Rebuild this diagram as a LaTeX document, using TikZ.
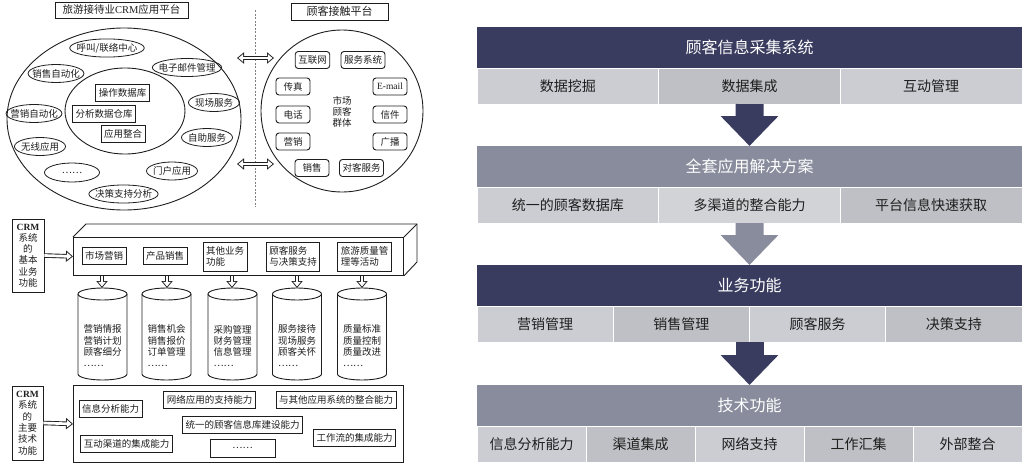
\documentclass[tikz,border=0pt]{standalone}
\usepackage{fontspec}
\setmainfont{Liberation Serif}
\newfontfamily\cjk{Noto Sans CJK SC}
\newfontfamily\serif{Liberation Serif}
\usetikzlibrary{positioning, arrows.meta, calc, shapes.geometric}
\definecolor{barnavy}{RGB}{58, 60, 95}
\definecolor{bargray}{RGB}{136, 140, 156}
\definecolor{celllight}{RGB}{203, 205, 211}
\definecolor{cellpale}{RGB}{209, 211, 215}
\definecolor{celldark}{RGB}{191, 192, 197}
\definecolor{inkgray}{RGB}{30, 30, 30}

\tikzset{
    lbl/.style={font=\cjk\fontsize{9.5}{11.3}\selectfont, text=inkgray},
    boxline/.style={draw=inkgray, line width=0.9pt},
    sqbox/.style={lbl, boxline, inner xsep=3pt, inner ysep=1.5pt, minimum height=17pt},
    rbox/.style={sqbox, rounded corners=3pt, minimum width=34pt},
    smallell/.style={lbl, draw=inkgray, line width=0.8pt, ellipse, inner xsep=-4pt, inner ysep=1.5pt, minimum width=51pt, minimum height=18pt},
    hollowout/.style={draw=inkgray, line width=4.5pt, -{Triangle[width=11pt, length=7pt]}},
    hollowin/.style={draw=white, line width=2.7pt, shorten >=1.46pt, -{Triangle[width=7.3pt, length=4.64pt]}},
    bothout/.style={hollowout, {Triangle[width=11pt, length=7pt]}-{Triangle[width=11pt, length=7pt]}},
    bothin/.style={hollowin, shorten <=1.46pt, {Triangle[width=7.3pt, length=4.64pt]}-{Triangle[width=7.3pt, length=4.64pt]}},
    navybar/.style={fill=barnavy, text=white, minimum width=545pt, minimum height=41pt, inner sep=0pt, outer sep=0pt, font=\cjk\fontsize{16}{18}\selectfont},
    graybar/.style={navybar, fill=bargray},
    cell/.style={draw=white, line width=0.8pt, minimum height=36pt, inner sep=0pt, outer sep=0pt, text=inkgray, font=\cjk\fontsize{14}{16}\selectfont},
    navyarrow/.style={draw=barnavy, line width=28pt, -{Triangle[width=56pt, length=30pt]}},
    grayarrow/.style={navyarrow, draw=bargray},
}

\begin{document}
\begin{tikzpicture}[x=1pt, y=-1pt]
        \useasboundingbox (0,0) rectangle (1026,466);

        % CRM platform
        \node[sqbox, minimum width=133pt, minimum height=16pt, font=\cjk\fontsize{10.5}{12}\selectfont] (crmtitle) at (121.5,10) {旅游接待业{\serif CRM}应用平台};
        \node[ellipse, boxline, minimum width=234pt, minimum height=182pt] (crmell) at (124,119) {};
        \node[ellipse, boxline, minimum width=120pt, minimum height=86pt] (dbell) at (125,111) {};
        \node[sqbox] (opdb) at (122.5,93) {操作数据库};
        \node[sqbox] (anadw) at (104,113.5) {分析数据仓库};
        \node[sqbox] (appint) at (123,134) {应用整合};
        \node[smallell, minimum width=70pt] (call) at (107,48) {呼叫/联络中心};
        \node[smallell] (email) at (187,67.5) {电子邮件管理};
        \node[smallell] (salesauto) at (56,73.5) {销售自动化};
        \node[smallell] (onsite) at (214,102.5) {现场服务};
        \node[smallell] (mktauto) at (34,113.5) {营销自动化};
        \node[smallell] (selfsvc) at (207,137.5) {自助服务};
        \node[smallell] (wireless) at (40,146.5) {无线应用};
        \node[smallell] (portal) at (172,171) {门户应用};
        \node[smallell, minimum width=55pt, minimum height=19pt] (moreapp) at (72,172.5) {……};
        \node[smallell] (decision) at (123.5,194) {决策支持分析};

        % divider and links
        \draw[gray, dashed, dash pattern=on 2pt off 1.5pt] (255,10) -- (255,207);
        \coordinate (lnkal) at (237,58);
        \coordinate (lnkar) at (274,58);
        \coordinate (lnkbl) at (237,164);
        \coordinate (lnkbr) at (274,164);
        \draw[bothout] (lnkal) -- (lnkar);
        \draw[bothin] (lnkal) -- (lnkar);
        \draw[bothout] (lnkbl) -- (lnkbr);
        \draw[bothin] (lnkbl) -- (lnkbr);

        % Contact platform
        \node[sqbox, minimum width=97pt, font=\cjk\fontsize{11}{13}\selectfont] (touchtitle) at (339.5,11.5) {顾客接触平台};
        \node[circle, boxline, minimum size=162pt] (touchcirc) at (342,111) {};
        \node[lbl, align=center, font=\cjk\fontsize{9.5}{11}\selectfont] (market) at (342,112) {市场\\顾客\\群体};
        \node[rbox] (net) at (312.5,60) {互联网};
        \node[rbox] (svcsys) at (363,60) {服务系统};
        \node[rbox] (fax) at (293,86.5) {传真};
        \node[rbox] (mail) at (390,86.5) {\serif E-mail};
        \node[rbox] (phone) at (293,114.5) {电话};
        \node[rbox] (letter) at (390,114.5) {信件};
        \node[rbox] (mkt) at (293,141.5) {营销};
        \node[rbox] (bcast) at (390,141.5) {广播};
        \node[rbox] (sale) at (312,168) {销售};
        \node[rbox] (custsvc) at (361.5,168) {对客服务};

        % Business functions
        \node[sqbox, align=center, minimum width=32pt, minimum height=73pt] (crmbiz) at (28,255.5) {{\serif\bfseries CRM}\\系统\\的\\基本\\业务\\功能};
        \node[boxline, minimum width=330pt, minimum height=38pt, anchor=north west] (bizbox) at (73,237) {};
        \draw[boxline] (bizbox.north west) -- ++(13,-13) -- ++(331,0) -- ++(0,38) -- (bizbox.south east);
        \draw[boxline] (bizbox.north east) -- ++(13,-13);
        \draw[hollowout] (crmbiz.east) -- (bizbox.west);
        \draw[hollowin] (crmbiz.east) -- (bizbox.west);
        \node[sqbox] (mkting) at (104,256) {市场营销};
        \node[sqbox] (prodsale) at (165,256) {产品销售};
        \node[sqbox, align=left, minimum height=29pt] (otherbiz) at (225,256.5) {其他业务\\功能};
        \node[sqbox, align=left, minimum height=29pt] (custdec) at (293,256.5) {顾客服务\\与决策支持};
        \node[sqbox, align=left, minimum height=29pt] (quality) at (364.5,256.5) {旅游质量管\\理等活动};

        % Databases
        \draw[boxline] (78,294) -- (78,374) arc[start angle=180, end angle=360, x radius=24.5pt, y radius=6pt] -- (127,294);
        \draw[boxline] (102.5,294) ellipse [x radius=24.5pt, y radius=6pt];
        \coordinate (db1) at (102,288);
        \node[lbl, align=left] (db1txt) at (102.5,346) {营销情报\\营销计划\\顾客细分\\……};
        \draw[boxline] (142,294) -- (142,374) arc[start angle=180, end angle=360, x radius=24.5pt, y radius=6pt] -- (191,294);
        \draw[boxline] (166.5,294) ellipse [x radius=24.5pt, y radius=6pt];
        \coordinate (db2) at (167,288);
        \node[lbl, align=left] (db2txt) at (166.5,346) {销售机会\\销售报价\\订单管理\\……};
        \draw[boxline] (208,294) -- (208,374) arc[start angle=180, end angle=360, x radius=24.5pt, y radius=6pt] -- (257,294);
        \draw[boxline] (232.5,294) ellipse [x radius=24.5pt, y radius=6pt];
        \coordinate (db3) at (232,288);
        \node[lbl, align=left] (db3txt) at (232.5,346) {采购管理\\财务管理\\信息管理\\……};
        \draw[boxline] (272.5,294) -- (272.5,374) arc[start angle=180, end angle=360, x radius=24.5pt, y radius=6pt] -- (321.5,294);
        \draw[boxline] (297,294) ellipse [x radius=24.5pt, y radius=6pt];
        \coordinate (db4) at (297,288);
        \node[lbl, align=left] (db4txt) at (297,346) {服务接待\\现场服务\\顾客关怀\\……};
        \draw[boxline] (337.5,294) -- (337.5,374) arc[start angle=180, end angle=360, x radius=24.5pt, y radius=6pt] -- (386.5,294);
        \draw[boxline] (362,294) ellipse [x radius=24.5pt, y radius=6pt];
        \coordinate (db5) at (362,288);
        \node[lbl, align=left] (db5txt) at (362,346) {质量标准\\质量控制\\质量改进\\……};
        \draw[hollowout] (bizbox.south -| db1) -- (db1);
        \draw[hollowin] (bizbox.south -| db1) -- (db1);
        \draw[hollowout] (bizbox.south -| db2) -- (db2);
        \draw[hollowin] (bizbox.south -| db2) -- (db2);
        \draw[hollowout] (bizbox.south -| db3) -- (db3);
        \draw[hollowin] (bizbox.south -| db3) -- (db3);
        \draw[hollowout] (bizbox.south -| db4) -- (db4);
        \draw[hollowin] (bizbox.south -| db4) -- (db4);
        \draw[hollowout] (bizbox.south -| db5) -- (db5);
        \draw[hollowin] (bizbox.south -| db5) -- (db5);

        % Technical functions
        \node[sqbox, align=center, minimum width=31pt, minimum height=74pt] (crmtech) at (27.5,423) {{\serif\bfseries CRM}\\系统\\的\\主要\\技术\\功能};
        \node[boxline, minimum width=330pt, minimum height=77pt, anchor=north west] (techbox) at (73,385) {};
        \draw[hollowout] (crmtech.east) -- (techbox.west);
        \draw[hollowin] (crmtech.east) -- (techbox.west);
        \node[sqbox] (infoana) at (110.5,409) {信息分析能力};
        \node[sqbox] (netsup) at (209.5,400) {网络应用的支持能力};
        \node[sqbox] (integ) at (336,400) {与其他应用系统的整合能力};
        \node[sqbox] (unidb) at (242.5,424.5) {统一的顾客信息库建设能力};
        \node[sqbox] (chan) at (126.5,443.5) {互动渠道的集成能力};
        \node[sqbox] (flow) at (354.5,437.5) {工作流的集成能力};
        \node[sqbox, minimum width=65pt, minimum height=18pt] (techmore) at (242.5,448) {……};

        % Layer 1
        \node[navybar, anchor=north west] (collect) at (477,27) {顾客信息采集系统};
        \node[cell, fill=celllight, minimum width=181.67pt, anchor=north west] (r1a) at (477,68) {数据挖掘};
        \node[cell, fill=celldark, minimum width=181.67pt, right=0pt of r1a] (r1b) {数据集成};
        \node[cell, fill=celllight, minimum width=181.67pt, right=0pt of r1b] (r1c) {互动管理};

        % Layer 2
        \node[graybar, anchor=north west] (suite) at (477,146) {全套应用解决方案};
        \node[cell, fill=celllight, minimum width=181.67pt, anchor=north west] (r2a) at (477,187) {统一的顾客数据库};
        \node[cell, fill=cellpale, minimum width=181.67pt, right=0pt of r2a] (r2b) {多渠道的整合能力};
        \node[cell, fill=celldark, minimum width=181.67pt, right=0pt of r2b] (r2c) {平台信息快速获取};
        \draw[navyarrow] (r1b.south) -- (suite.north);

        % Layer 3
        \node[navybar, anchor=north west] (biz) at (477,265) {业务功能};
        \node[cell, fill=celllight, minimum width=136.25pt, anchor=north west] (r3a) at (477,306) {营销管理};
        \node[cell, fill=celldark, minimum width=136.25pt, right=0pt of r3a] (r3b) {销售管理};
        \node[cell, fill=celllight, minimum width=136.25pt, right=0pt of r3b] (r3c) {顾客服务};
        \node[cell, fill=celldark, minimum width=136.25pt, right=0pt of r3c] (r3d) {决策支持};
        \draw[grayarrow] (r2b.south) -- (biz.north);

        % Layer 4
        \node[graybar, anchor=north west] (tech) at (477,385) {技术功能};
        \node[cell, fill=celllight, minimum width=109pt, anchor=north west] (r4a) at (477,426) {信息分析能力};
        \node[cell, fill=celldark, minimum width=109pt, right=0pt of r4a] (r4b) {渠道集成};
        \node[cell, fill=celllight, minimum width=109pt, right=0pt of r4b] (r4c) {网络支持};
        \node[cell, fill=celldark, minimum width=109pt, right=0pt of r4c] (r4d) {工作汇集};
        \node[cell, fill=celllight, minimum width=109pt, right=0pt of r4d] (r4e) {外部整合};
        \draw[navyarrow] (r3b.south east) -- (tech.north);

\end{tikzpicture}
\end{document}
